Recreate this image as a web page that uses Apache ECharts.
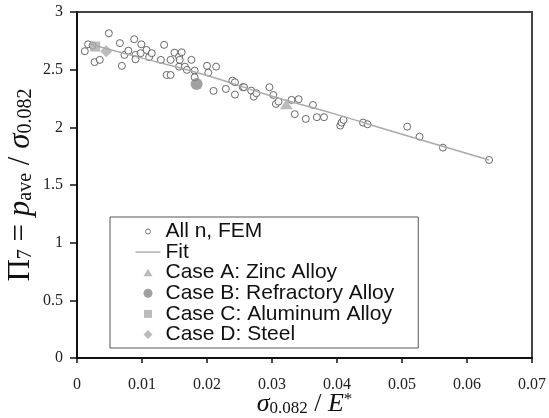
<!DOCTYPE html>
<html>
<head>
<meta charset="utf-8">
<script src="https://cdn.jsdelivr.net/npm/echarts@6/dist/echarts.min.js"></script>
<style>html,body{margin:0;padding:0;background:#fff}#c{width:549px;height:418px}</style>
</head>
<body>
<div id="c"></div>
<script>
// ---- data ----
const xTicks = ['0', '0.01', '0.02', '0.03', '0.04', '0.05', '0.06', '0.07'];
const yTicks = ['0', '0.5', '1', '1.5', '2', '2.5', '3'];
const legendNames = ['All n, FEM', 'Fit', 'Case A: Zinc Alloy', 'Case B: Refractory Alloy', 'Case C: Aluminum Alloy', 'Case D: Steel'];
const allN = [
  [0.0012,2.66],[0.0017,2.72],[0.0024,2.71],[0.0027,2.565],[0.0035,2.585],[0.0049,2.816],[0.0066,2.73],
  [0.0069,2.533],[0.0073,2.628],[0.0079,2.665],[0.0088,2.764],[0.009,2.628],[0.009,2.59],[0.0098,2.643],
  [0.0099,2.72],[0.0107,2.671],[0.0111,2.608],[0.0115,2.643],[0.0129,2.585],[0.0134,2.715],[0.0138,2.454],
  [0.0144,2.454],[0.0144,2.585],[0.015,2.648],[0.0157,2.613],[0.0157,2.526],[0.0158,2.585],[0.0161,2.651],
  [0.0166,2.526],[0.0169,2.498],[0.0176,2.585],[0.0181,2.492],[0.0181,2.434],[0.020,2.533],[0.0202,2.474],
  [0.021,2.316],[0.0214,2.526],[0.0229,2.333],[0.0239,2.405],[0.0243,2.391],[0.0243,2.284],[0.0255,2.348],
  [0.0257,2.348],[0.0268,2.318],[0.0272,2.266],[0.0276,2.296],[0.0296,2.348],[0.0302,2.281],[0.0306,2.203],
  [0.031,2.223],[0.033,2.238],[0.0335,2.114],[0.0341,2.244],[0.0352,2.073],[0.0363,2.194],[0.0369,2.088],
  [0.038,2.088],[0.0405,2.015],[0.0407,2.041],[0.041,2.064],[0.044,2.041],[0.0447,2.027],[0.0508,2.006],
  [0.0527,1.919],[0.0563,1.824],[0.0634,1.717]
];
const fitLine = [[0.002,2.72],[0.01,2.60],[0.02,2.45],[0.03,2.27],[0.04,2.11],[0.05,1.94],[0.0634,1.717]];
const caseA = [[0.0322,2.20]];
const caseB = [[0.0184,2.375]];
const caseC = [[0.0028,2.70]];
const caseD = [[0.0045,2.66]];

// ---- legend icons (25x14 box, drawn 1:1) ----
const BOX = 'M0,0 M25,14 ';
const iconCircleSmall = 'path://' + BOX + 'M10,7 A2.5,2.5 0 1,0 15,7 A2.5,2.5 0 1,0 10,7 Z';
const iconLine = 'path://' + BOX + 'M0,6.3 L25,6.3 L25,7.7 L0,7.7 Z';
const iconTri = 'path://' + BOX + 'M12.5,3 L17,10.5 L8,10.5 Z';
const iconCircle = 'path://' + BOX + 'M8,7 A4.5,4.5 0 1,0 17,7 A4.5,4.5 0 1,0 8,7 Z';
const iconSquare = 'path://' + BOX + 'M8.5,3 L16.5,3 L16.5,11 L8.5,11 Z';
const iconDiamond = 'path://' + BOX + 'M12.5,2.5 L17,7 L12.5,11.5 L8,7 Z';

const serif = '"Liberation Serif","Times New Roman",serif';
const sans = '"Liberation Sans",Arial,sans-serif';

const chart = echarts.init(document.getElementById('c'), null, {renderer: 'canvas'});
chart.setOption({
  animation: false,
  backgroundColor: '#fff',
  grid: {left: 77, right: 17, top: 12, bottom: 60, outerBoundsMode: 'none', containLabel: false,
    show: true, borderColor: '#444', borderWidth: 2, backgroundColor: 'transparent'},
  xAxis: {
    type: 'value', min: 0, max: 0.07, interval: 0.01,
    axisLine: {show: true, lineStyle: {color: '#111', width: 2}},
    axisTick: {show: true, length: 5, inside: false, lineStyle: {color: '#111', width: 1.5}},
    splitLine: {show: false},
    axisLabel: {margin: 19, fontFamily: serif, fontSize: 16, color: '#222',
      formatter: (v) => xTicks[Math.round(v / 0.01)]},
    name: '{it|σ}{sub|0.082}{n| / }{it|E}{sup|*}',
    nameLocation: 'middle', nameGap: 33, nameMoveOverlap: false,
    nameTextStyle: {
      rich: {
        it: {fontFamily: serif, fontStyle: 'italic', fontSize: 26, color: '#111', lineHeight: 26, padding: [4, 0, 4, 0], verticalAlign: 'middle'},
        n: {fontFamily: serif, fontSize: 26, color: '#111', lineHeight: 26, padding: [4, 0, 4, 0], verticalAlign: 'middle'},
        sub: {fontFamily: serif, fontSize: 17, color: '#111', lineHeight: 17, verticalAlign: 'bottom'},
        sup: {fontFamily: serif, fontSize: 17, color: '#111', lineHeight: 17, verticalAlign: 'top'}
      }
    }
  },
  yAxis: {
    type: 'value', min: 0, max: 3, interval: 0.5,
    axisLine: {show: true, lineStyle: {color: '#111', width: 2}},
    axisTick: {show: true, length: 7, inside: false, lineStyle: {color: '#111', width: 1.5}},
    splitLine: {show: false},
    axisLabel: {margin: 14, fontFamily: serif, fontSize: 16, color: '#222',
      formatter: (v) => yTicks[Math.round(v / 0.5)]},
    name: '{n|Π}{sub|7}{n| = }{it|p}{sub|ave}{n| / }{it|σ}{sub|0.082}',
    nameLocation: 'middle', nameGap: 41, nameMoveOverlap: false,
    nameTextStyle: {
      rich: {
        it: {fontFamily: serif, fontStyle: 'italic', fontSize: 31, color: '#111', lineHeight: 31, padding: [0, 0, 5, 0], verticalAlign: 'top'},
        n: {fontFamily: serif, fontSize: 31, color: '#111', lineHeight: 31, padding: [0, 0, 5, 0], verticalAlign: 'top'},
        sub: {fontFamily: serif, fontSize: 20, color: '#111', lineHeight: 20, verticalAlign: 'bottom'}
      }
    }
  },
  legend: {
    orient: 'vertical', left: 110, top: 217,
    itemWidth: 25, itemHeight: 14, itemGap: -0.4,
    padding: [4, 24, 3, 25],
    borderColor: '#555', borderWidth: 1, backgroundColor: '#fff',
    textStyle: {fontFamily: sans, fontSize: 21, color: '#111'},
    data: [
      {name: legendNames[0], icon: iconCircleSmall, itemStyle: {color: '#fff', borderColor: '#555', borderWidth: 1}},
      {name: legendNames[1], icon: iconLine, itemStyle: {color: '#aaa', borderWidth: 0}},
      {name: legendNames[2], icon: iconTri, itemStyle: {color: '#aaa', borderWidth: 0}},
      {name: legendNames[3], icon: iconCircle, itemStyle: {color: '#888', borderWidth: 0}},
      {name: legendNames[4], icon: iconSquare, itemStyle: {color: '#aaa', borderWidth: 0}},
      {name: legendNames[5], icon: iconDiamond, itemStyle: {color: '#aaa', borderWidth: 0}}
    ]
  },
  series: [
    {name: legendNames[0], type: 'scatter', data: allN, symbol: 'circle', symbolSize: 7,
      itemStyle: {color: '#fff', borderColor: '#444', borderWidth: 1}, z: 2},
    {name: legendNames[1], type: 'line', data: fitLine, showSymbol: false, symbol: 'none', smooth: true,
      lineStyle: {color: '#aaa', width: 1.5}, itemStyle: {color: '#aaa'}, z: 3},
    {name: legendNames[2], type: 'scatter', data: caseA, symbol: 'triangle', symbolSize: [13, 10],
      itemStyle: {color: '#aaa'}, z: 4},
    {name: legendNames[3], type: 'scatter', data: caseB, symbol: 'circle', symbolSize: 12,
      itemStyle: {color: '#888'}, z: 4},
    {name: legendNames[4], type: 'scatter', data: caseC, symbol: 'rect', symbolSize: 10,
      itemStyle: {color: '#aaa'}, z: 4},
    {name: legendNames[5], type: 'scatter', data: caseD, symbol: 'diamond', symbolSize: 12,
      itemStyle: {color: '#aaa'}, z: 4}
  ]
});
</script>
</body>
</html>
